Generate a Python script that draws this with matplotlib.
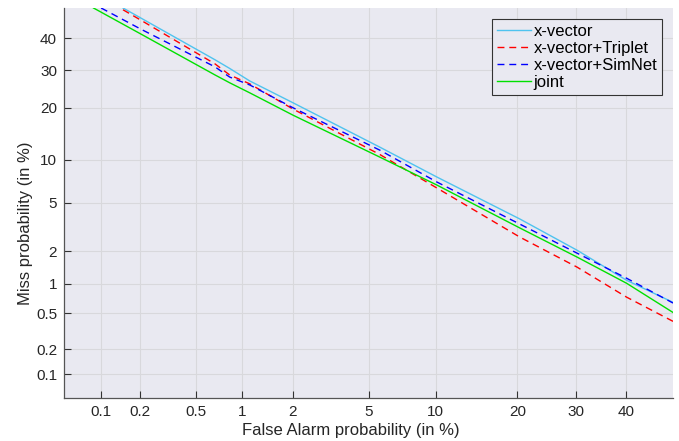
import matplotlib
matplotlib.use("Agg")
import matplotlib.pyplot as plt
import numpy as np
from statistics import NormalDist

# DET curves: (false alarm %, miss %)
xvec_fa = [0.148, 0.667, 0.83, 1.11, 2.0, 5.67, 10.1, 20.4, 30.2, 40.1, 50.0]
xvec_miss = [50.0, 33.1, 30.5, 26.9, 21.2, 12.0, 7.69, 3.75, 2.05, 1.08, 0.65]

trip_fa = [0.148, 0.2, 0.667, 0.83, 1.11, 2.0, 5.67, 10.1, 20.4, 30.2, 40.1, 50.0]
trip_miss = [49.4, 46.0, 31.85, 28.6, 26.1, 19.7, 10.8, 6.44, 2.66, 1.44, 0.735, 0.41]

sim_fa = [0.10, 0.2, 0.667, 0.83, 1.11, 2.0, 5.67, 10.1, 20.4, 30.2, 40.1, 50.0]
sim_miss = [50.0, 43.0, 30.96, 28.0, 25.8, 20.0, 11.5, 7.10, 3.41, 1.93, 1.13, 0.64]

joint_fa = [0.087, 0.2, 0.667, 0.83, 1.11, 2.0, 5.67, 10.1, 20.4, 30.2, 40.1, 50.0]
joint_miss = [50.0, 41.4, 28.6, 26.4, 23.7, 18.3, 10.4, 6.76, 3.17, 1.78, 1.01, 0.51]

ticks = [0.1, 0.2, 0.5, 1, 2, 5, 10, 20, 30, 40]
tick_labels = ["0.1", "0.2", "0.5", "1", "2", "5", "10", "20", "30", "40"]

_nd = NormalDist()
_ppf = np.vectorize(lambda p: _nd.inv_cdf(p), otypes=[float])
_cdf = np.vectorize(lambda z: _nd.cdf(z), otypes=[float])


def fwd(p):
    p = np.clip(np.asarray(p, dtype=float) / 100.0, 1e-9, 1 - 1e-9)
    return _ppf(p)


def inv(z):
    return _cdf(np.asarray(z, dtype=float)) * 100.0


plt.rcParams["font.family"] = ["Liberation Sans", "DejaVu Sans"]

fig = plt.figure(figsize=(6.79, 4.41), dpi=100)
ax = fig.add_axes([0.0943, 0.0975, 0.8969, 0.8844])
ax.set_facecolor("#e9e9f1")

ax.plot(xvec_fa, xvec_miss, "-", color="#4fc3ef", lw=1.0, label="x-vector")
ax.plot(trip_fa, trip_miss, "--", color="red", lw=1.0, dashes=(5, 3.5),
        label="x-vector+Triplet")
ax.plot(sim_fa, sim_miss, "--", color="blue", lw=1.0, dashes=(5, 3.5),
        label="x-vector+SimNet")
ax.plot(joint_fa, joint_miss, "-", color="#00e000", lw=1.0, label="joint")

ax.set_xscale("function", functions=(fwd, inv))
ax.set_yscale("function", functions=(fwd, inv))
ax.set_xlim(0.05, 50)
ax.set_ylim(0.05, 50)
ax.set_xticks(ticks, tick_labels)
ax.set_yticks(ticks, tick_labels)
ax.minorticks_off()

ax.grid(True, color="#d8d8dc", lw=0.8)
ax.set_axisbelow(True)
ax.tick_params(direction="in", length=5, width=0.8, color="#333333",
               labelsize=11, labelcolor="#262626", pad=5)
for s in ["top", "right"]:
    ax.spines[s].set_visible(False)
for s in ["left", "bottom"]:
    ax.spines[s].set_color("#555555")
    ax.spines[s].set_linewidth(0.9)

ax.set_xlabel("False Alarm probability (in %)", fontsize=12, color="#262626")
ax.set_ylabel("Miss probability (in %)", fontsize=12, color="#262626")
ax.xaxis.set_label_coords(0.471, -0.063)
ax.yaxis.set_label_coords(-0.051, 0.449)

leg = ax.legend(loc="upper right", bbox_to_anchor=(0.982, 0.972), fontsize=12,
                frameon=True, fancybox=False, handlelength=2.0, handletextpad=0.15,
                borderpad=0.3, labelspacing=0.12, borderaxespad=0.0)
leg.get_frame().set_edgecolor("#333333")
leg.get_frame().set_facecolor("#e9e9f1")
leg.get_frame().set_alpha(1.0)
leg.get_frame().set_linewidth(0.8)

fig.savefig("out.png", dpi=100)
